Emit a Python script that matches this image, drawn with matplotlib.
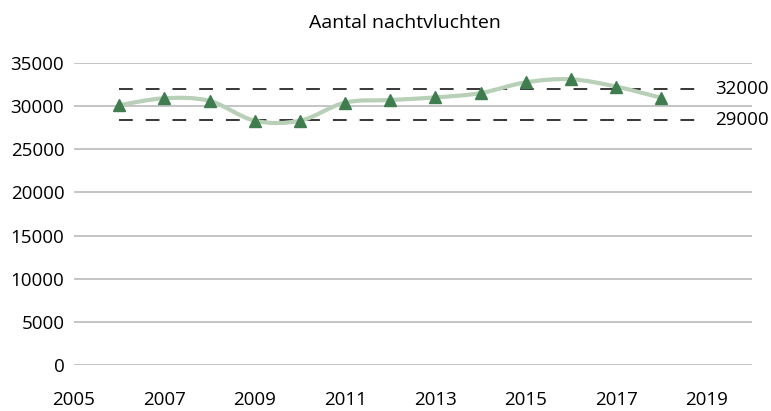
import matplotlib.pyplot as plt
from matplotlib.path import Path
from matplotlib.patches import PathPatch

# values
years = [2006, 2007, 2008, 2009, 2010, 2011, 2012, 2013, 2014, 2015, 2016, 2017, 2018]
flights = [30100, 30900, 30600, 28300, 28300, 30400, 30700, 31000, 31500, 32750, 33100, 32250, 30950]
upper_limit = 32000
lower_limit = 28400
upper_label = "32000"
lower_label = "29000"
x_ticks = [2005, 2007, 2009, 2011, 2013, 2015, 2017, 2019]
y_ticks = [0, 5000, 10000, 15000, 20000, 25000, 30000, 35000]
title = "Aantal nachtvluchten"

plt.rcParams['font.family'] = ['Open Sans', 'DejaVu Sans']


def smooth_path(xs, ys):
    """Excel-style smoothed line as cubic bezier segments."""
    pts = list(zip(xs, ys))
    verts = [pts[0]]
    codes = [Path.MOVETO]
    n = len(pts)
    for i in range(n - 1):
        p0 = pts[i - 1] if i > 0 else pts[i]
        p1 = pts[i]
        p2 = pts[i + 1]
        p3 = pts[i + 2] if i + 2 < n else pts[i + 1]
        c1 = (p1[0] + (p2[0] - p0[0]) / 6, p1[1] + (p2[1] - p0[1]) / 6)
        c2 = (p2[0] - (p3[0] - p1[0]) / 6, p2[1] - (p3[1] - p1[1]) / 6)
        verts += [c1, c2, p2]
        codes += [Path.CURVE4] * 3
    return Path(verts, codes)


fig = plt.figure(figsize=(7.71, 4.11), dpi=100)
ax = fig.add_axes([0.096, 0.112, 0.879, 0.735])

ax.set_xlim(2005, 2020)
ax.set_ylim(0, 35000)
ax.set_yticks(y_ticks)
ax.set_xticks(x_ticks)
ax.yaxis.grid(True, color='#bfbfbf', linewidth=1.3)
ax.set_axisbelow(True)
for s in ax.spines.values():
    s.set_visible(False)
ax.tick_params(axis='both', length=0, labelsize=13.5, colors='#000000')
ax.tick_params(axis='y', pad=7)
ax.tick_params(axis='x', pad=19)

# reference lines
for val, lab in [(upper_limit, upper_label), (lower_limit, lower_label)]:
    ax.plot([years[0], 2019], [val, val], color='black', linewidth=1.1,
            dashes=(9, 8.5), zorder=2)
    ax.text(2019.2, val, lab, va='center', ha='left', fontsize=13.5)

# smoothed line + markers
ax.add_patch(PathPatch(smooth_path(years, flights), facecolor='none',
                       edgecolor='#b8cfb8', linewidth=3, zorder=3))
ax.plot(years, flights, linestyle='none', marker='^', markersize=8,
        color='#3f7d4f', zorder=4)

fig.text(0.525, 0.945, title, fontsize=14, ha='center', va='center')

plt.savefig('out.png', dpi=100)
